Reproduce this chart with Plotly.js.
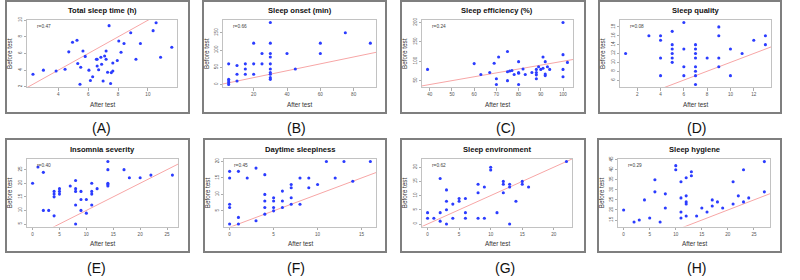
<!DOCTYPE html>
<html><head><meta charset="utf-8">
<script src="https://cdn.plot.ly/plotly-3.0.1.min.js"></script>
<style>html,body{margin:0;padding:0;background:#fff;}#chart{width:800px;height:280px;}</style>
</head><body><div id="chart"></div>
<script>
// ---------- DATA (After test = x, Before test = y) ----------
const titles = ['Total sleep time (h)','Sleep onset (min)','Sleep efficiency (%)','Sleep quality',
                'Insomnia severity','Daytime sleepiness','Sleep environment','Sleep hygiene'];
const panelLabels = ['(A)','(B)','(C)','(D)','(E)','(F)','(G)','(H)'];
const rLabels = ['r=0.47','r=0.66','r=0.24','r=0.08','r=0.40','r=0.45','r=0.62','r=0.29'];
const xAxisLabel = 'After test';
const yAxisLabel = 'Before test';

const aX = [2.3,3.0,3.85,4.45,4.7,4.95,5.25,5.3,5.5,5.45,5.65,5.8,6.05,6.15,6.3,6.55,6.6,6.6,6.7,6.85,6.9,7.0,7.1,7.2,7.2,7.3,7.4,7.5,7.55,7.65,7.65,7.95,8.05,8.2,8.4,8.85,9.2,9.5,10.35,10.55,10.85,11.6];
const aY = [3.5,4.0,3.9,4.1,6.2,7.35,7.6,4.8,4.35,2.3,6.3,5.65,4.0,2.75,3.2,5.3,5.3,4.5,4.05,5.55,4.7,2.7,5.7,6.3,5.3,3.75,9.35,2.4,3.7,3.9,4.85,5.15,7.5,6.15,7.2,8.5,5.3,7.2,8.75,9.7,5.55,6.75];

const bX = [5,5,5,5,5,10,10,10,15,15,15,20,20,20,25,25,30,30,30,30,30,30,30,30,30,30,40,45,60,60,75,90];
const bY = [0,5,10,15,60,10,30,55,30,45,60,30,60,120,60,90,180,120,90,80,60,45,35,30,20,15,90,45,120,90,150,120];

const cX = [39,60,63,67,69,70,70,71,75,75,75,76,77,78,80,80,80,80,82,83,86,88,88,88,88,89,90,91,91,92,92,92,93,94,100,100,100,100,102];
const cY = [79,94,66,71,95,55,40,111,125,73,50,75,76,66,99,71,69,40,80,66,71,71,65,79,55,86,79,82,111,99,67,63,86,79,200,117,79,60,97];

const dX = [1,3,4,4,4,4,5,5,5,5,5,5,6,6,6,6,7,7,7,7,7,7,7,7,8,9,9,9,9,10,10,11,12,13,13];
const dY = [12,16,16,15,11,7,17,14,13,12,11,10,19,13,9,7,14,13,12,11,9,8,7,5,11,18,16,11,9,13,7,12,15,16,14];

const eX = [0,1,2,2,3,4,4,4,4,5,5,5,7,8,8,8,8,8,9,9,9,10,10,11,11,11,11,12,14,14,14,14,14,17,18,20,22,26];
const eY = [20,26,24,10,10,17,16,15,8,18,17,16,19,21,18,17,12,5,17,14,10,14,9,20,17,16,12,18,28,25,20,19.5,19,25,22,22,23,23];

const fX = [0,0,0,0,0,1,1,1,2,3,3,4,4,4,4,4,5,5,5,5,6,6,6,7,7,7,7,8,8,9,9,10,11,12,13,14,16];
const fY = [17,15,7,6,1,17,3,1,15,18,2,16,10,8,6,4,9,8,6,5,11,8,6,13,12,9,7,15,7,15,12,13,20,15,20,14,20];

const gX = [0,0,1,2,2,2,3,3,3,3,4,4,5,5,6,6,6,8,8,8,9,9,10,10,11,12,12,12,13,13,13,14,15,15,16,22];
const gY = [4,2,2,4,1,16,12,8,5,0,7,2,9,8,9,4,2,14,11,2,13,2,20,19,4,15,14,11,14,13,0,8,15,14,13,22];

const hX = [0,2,3,4,5,6,6,7,8,8,10,10,11,11,11,11,12,12,12,12,12,13,13,14,15,16,17,17,18,19,21,21,22,23,23,24,27,27];
const hY = [20,14,15,25,16,35,29,14,28,21,42,40,34,26,19,16,36,27,24,23,17,39,37,17,21,19,25,22,24,21,34,23,27,40,24,26,44,29];

const xTicks = [[4,6,8,10],[20,40,60,80],[40,50,60,70,80,90,100],[2,4,6,8,10,12],[0,5,10,15,20,25],[0,5,10,15],[0,5,10,15,20],[0,5,10,15,20,25]];
const yTicks = [[2,4,6,8,10],[0,50,100,150],[50,100,150,200],[6,8,10,12,14,16,18],[5,10,15,20,25],[5,10,15,20],[0,5,10,15,20],[15,20,25,30,35,40,45]];

// identity reference line: Before = intercept + slope * After
const refIntercept = 0, refSlope = 1;

const seriesX = [aX,bX,cX,dX,eX,fX,gX,hX];
const seriesY = [aY,bY,cY,dY,eY,fY,gY,hY];

// ---------- LAYOUT CONFIG (pixels) ----------
const W = 800, H = 280;
const frameL = [6,203,401,599,6,204,401,598];
const frameR = [189,386,585,781,189,386,585,781];
const plotL  = [27,223,422,620,27,224,422,618];
const plotR  = [177,376,573,771,178,376,572,770];
const rowFrameT = [1,139], rowFrameB = [113,252];
const rowPlotT = [20,159], rowPlotB = [87,226.5];
const rowTitleY = [11,149.5], rowXLabY = [104.5,243.3], rowPanelY = [128,268];
const panelLabX = [101,296,505,696,96,296,505,696];
const xRanges = [[1.9,11.95],[1.6,93.4],[36.5,104.5],[0.52,13.48],[-1.04,27.04],[-0.64,16.64],[-0.88,22.88],[-1.08,28.08]];
const yRanges = [[1.97,10.03],[-7.2,187.2],[33.6,206.4],[4.44,19.56],[4.08,28.92],[0.24,20.76],[-0.88,22.88],[11.8,45.3]];

const FONT = 'Liberation Sans, Arial, Helvetica, sans-serif';
const px = x => x / W, py = y => 1 - y / H;

const data = [], shapes = [], annotations = [];
const layout = {
  width: W, height: H, margin: {l:0,r:0,t:0,b:0},
  paper_bgcolor: '#fff', plot_bgcolor: '#fff', showlegend: false,
  font: {family: FONT, color: '#222'}
};

for (let i = 0; i < 8; i++) {
  const row = i < 4 ? 0 : 1;
  const sfx = i === 0 ? '' : String(i + 1);
  const xa = 'x' + sfx, ya = 'y' + sfx;
  const xr = xRanges[i];
  data.push({
    type: 'scatter', mode: 'lines', xaxis: xa, yaxis: ya,
    x: [xr[0], xr[1]], y: [refIntercept + refSlope * xr[0], refIntercept + refSlope * xr[1]],
    line: {color: '#f7a6a6', width: 1}, hoverinfo: 'skip'
  });
  data.push({
    type: 'scatter', mode: 'markers', xaxis: xa, yaxis: ya,
    x: seriesX[i], y: seriesY[i],
    marker: {color: '#2b3cff', size: 3.1, line: {width: 0}}
  });
  const common = {
    showgrid: false, zeroline: false, showline: true, mirror: true,
    linecolor: '#c2c2c2', linewidth: 1, ticks: 'outside', ticklen: 2.5,
    tickwidth: 0.8, tickcolor: '#999', tickfont: {size: 4.6, color: '#555', family: FONT}
  };
  layout['xaxis' + sfx] = Object.assign({}, common, {
    domain: [px(plotL[i]), px(plotR[i])], anchor: ya, range: xr,
    tickmode: 'array', tickvals: xTicks[i], ticktext: xTicks[i].map(String)
  });
  layout['yaxis' + sfx] = Object.assign({}, common, {
    domain: [py(rowPlotB[row]), py(rowPlotT[row])], anchor: xa, range: yRanges[i],
    tickmode: 'array', tickvals: yTicks[i], ticktext: yTicks[i].map(String), tickangle: -90
  });
  shapes.push({type: 'rect', xref: 'paper', yref: 'paper',
    x0: px(frameL[i]), x1: px(frameR[i]), y0: py(rowFrameB[row]), y1: py(rowFrameT[row]),
    line: {color: '#7f7f7f', width: 2}, fillcolor: 'rgba(0,0,0,0)'});
  const cx = (plotL[i] + plotR[i]) / 2;
  const cy = (rowPlotT[row] + rowPlotB[row]) / 2;
  annotations.push({xref:'paper', yref:'paper', x: px(cx), y: py(rowTitleY[row]),
    xanchor:'center', yanchor:'middle', showarrow:false,
    text: '<b>' + titles[i] + '</b>', font: {size: 7.6, color: '#111', family: FONT}});
  annotations.push({xref:'paper', yref:'paper', x: px(cx), y: py(rowXLabY[row]),
    xanchor:'center', yanchor:'middle', showarrow:false,
    text: xAxisLabel, font: {size: 6.3, color: '#333', family: FONT}});
  annotations.push({xref:'paper', yref:'paper', x: px(frameL[i] + 3.5), y: py(cy),
    xanchor:'center', yanchor:'middle', showarrow:false, textangle: -90,
    text: yAxisLabel, font: {size: 6.3, color: '#333', family: FONT}});
  annotations.push({xref:'paper', yref:'paper', x: px(plotL[i] + 8), y: py(rowPlotT[row] + 6),
    xanchor:'left', yanchor:'middle', showarrow:false,
    text: rLabels[i], font: {size: 4.8, color: '#444', family: FONT}});
  annotations.push({xref:'paper', yref:'paper', x: px(panelLabX[i]), y: py(rowPanelY[row]),
    xanchor:'center', yanchor:'middle', showarrow:false,
    text: panelLabels[i], font: {size: 14, color: '#111', family: FONT}});
}
layout.shapes = shapes;
layout.annotations = annotations;
Plotly.newPlot('chart', data, layout, {staticPlot: true, displayModeBar: false});
</script>
</body></html>
